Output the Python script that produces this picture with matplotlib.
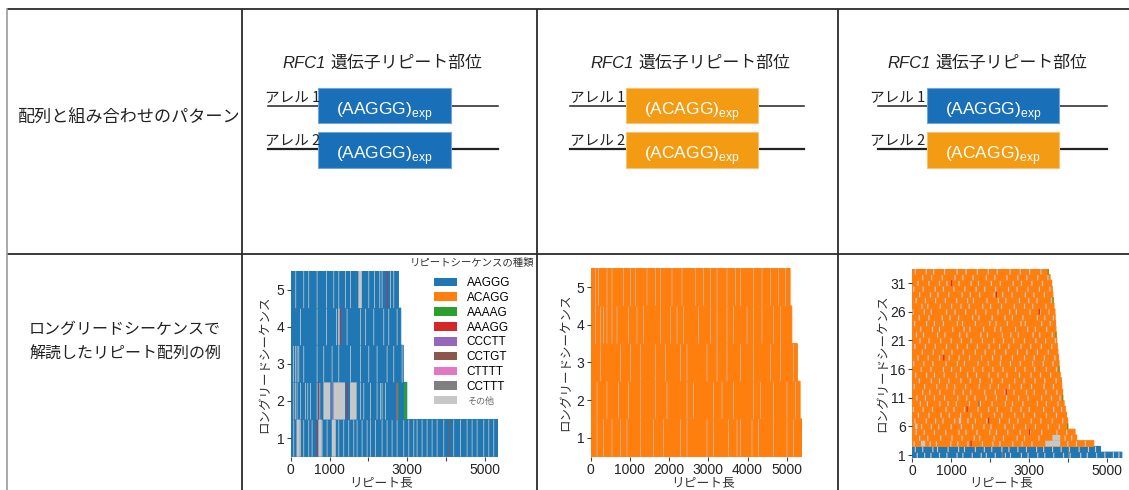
import matplotlib
matplotlib.use("Agg")
import matplotlib.pyplot as plt
from matplotlib.patches import Rectangle, Patch

plt.rcParams['font.family'] = ['Liberation Sans', 'Noto Sans CJK JP', 'DejaVu Sans']
plt.rcParams['mathtext.fontset'] = 'custom'
plt.rcParams['mathtext.rm'] = 'Liberation Sans'

# ---------------- data ----------------
motifs = ['AAGGG', 'ACAGG', 'AAAAG', 'AAAGG', 'CCCTT', 'CCTGT', 'CTTTT', 'CCTTT', 'その他']
motif_colors = ['#1f77b4', '#ff7f0e', '#2ca02c', '#d62728', '#9467bd',
                '#8c564b', '#e377c2', '#7f7f7f', '#c7c7c7']

row_labels = ['配列と組み合わせのパターン', 'ロングリードシーケンスで\n解読したリピート配列の例']
gene_title = '遺伝子リピート部位'
allele_labels = ['アレル 1', 'アレル 2']
panel_alleles = [('AAGGG', 'AAGGG'), ('ACAGG', 'ACAGG'), ('AAGGG', 'ACAGG')]

# panel 1: AAGGG/AAGGG, reads 1..5
p1_lengths = [5350, 2990, 2900, 2835, 2775]
p1_base = ['AAGGG'] * 5
p1_other = [
    [69, 155, 241, 326, 455, 541, 799, 928, 1143, 1229, 1357, 1486, 1615, 1701, 1830,
     1959, 2045, 2174, 2345, 2474, 2603, 2732, 2904, 3033, 3162, 3247, 3376, 3505,
     3634, 3763, 3935, 4192, 4364, 4536, 4665, 4794, 4966, 5095, 5223],
    [69, 112, 155, 241, 369, 430, 498, 670, 740, 1529, 1600, 1787, 1873, 2045, 2216,
     2302, 2345, 2431, 2732],
    [60, 112, 155, 198, 326, 670, 842, 1057, 1229, 1529, 1787, 2002, 2216, 2474, 2646, 2861],
    [241, 670, 911, 1168, 1229, 1443, 1787, 1916, 2131, 2388, 2517, 2732],
    [120, 326, 455, 670, 911, 1100, 1229, 1400, 1529, 2002, 2148, 2285, 2345, 2560, 2646],
]
p1_other_len = 20
# (read, start, length, motif) for wider or coloured pieces
p1_pieces = [
    (5, 1744, 90, 'その他'), (5, 2474, 20, 'AAAGG'),
    (4, 1271, 20, 'AAAGG'), (4, 1229, 30, 'その他'),
    (2, 842, 180, 'その他'), (2, 1057, 20, 'CTTTT'), (2, 1100, 300, 'その他'),
    (2, 1443, 22, 'AAAGG'), (2, 1529, 170, 'その他'), (2, 713, 20, 'AAAGG'),
    (2, 2775, 18, 'AAAAG'), (2, 2921, 69, 'AAAAG'), (2, 2732, 20, 'AAAGG'),
    (1, 670, 20, 'AAAGG'), (1, 155, 80, 'その他'), (1, 713, 86, 'その他'),
    (1, 1057, 86, 'その他'), (1, 4064, 25, 'CCTGT'),
]

# panel 2: ACAGG/ACAGG, reads 1..5
p2_lengths = [5400, 5340, 5270, 5128, 5085]
p2_base = ['ACAGG'] * 5
p2_other = [
    [153, 323, 536, 748, 918, 1259, 1599, 1854, 2279, 2449, 2959, 3129, 3512, 3724,
     3810, 4107, 4277, 4660, 5000, 5170],
    [153, 408, 706, 961, 1259, 1641, 1939, 2449, 2619, 3129, 3342, 3639, 4150, 4320,
     4660, 5000, 5213],
    [238, 748, 1003, 1259, 1641, 1896, 2279, 2449, 2959, 3214, 3469, 3810, 4150,
     4575, 4830, 5170],
    [111, 238, 323, 408, 536, 663, 961, 1173, 1344, 1769, 2024, 2194, 2364, 2747,
     3044, 3214, 3469, 3639, 3980, 4150, 4362, 4660, 4830],
    [111, 196, 408, 536, 833, 1003, 1131, 1429, 1641, 1769, 2066, 2321, 2662, 2874,
     3044, 3214, 3469, 3682, 3810, 4150, 4362, 4575, 4787, 4957],
]
p2_other_len = 15

# panel 3: AAGGG/ACAGG, reads 1..33
p3_lengths = [5380, 4830, 4660, 4220, 4180, 4000, 3990, 3960, 3930, 3900, 3870,
              3860, 3840, 3830, 3800, 3780, 3770, 3755, 3740, 3725, 3710, 3700,
              3690, 3680, 3670, 3665, 3640, 3625, 3610, 3595, 3580, 3540, 3500]
p3_base = ['AAGGG', 'AAGGG'] + ['ACAGG'] * 31
p3_other = [
    [120, 310, 470, 690, 880, 1140, 1290, 1530, 1760, 1890, 2120, 2380, 2510, 2790,
     2960, 3210, 3390, 3620, 3870, 4040, 4310, 4480, 4720, 4930, 5150, 5290],
    [70, 260, 520, 640, 910, 1180, 1330, 1610, 1840, 2030, 2290, 2470, 2700, 2920,
     3180, 3360, 3590, 3810, 4020, 4270, 4510, 4690],
    [40, 450, 610, 980, 1160, 1420, 1790, 2060, 2240, 2570, 2810, 3060, 3980, 4200, 4430],
    [180, 390, 720, 1010, 1270, 1580, 1720, 2090, 2330, 2680, 2870, 3240, 3910, 4080],
    [90, 300, 560, 850, 1190, 1370, 1650, 1980, 2150, 2440, 2760, 3020, 3310, 3700, 3950],
    [230, 480, 670, 990, 1250, 1540, 1830, 2010, 2370, 2590, 2900, 3150, 3480, 3760],
    [60, 350, 590, 780, 1080, 1420, 1610, 1900, 2230, 2480, 2700, 3040, 3290, 3580, 3850],
    [150, 420, 730, 940, 1230, 1500, 1760, 2100, 2290, 2620, 2850, 3130, 3430, 3690],
    [20, 270, 510, 860, 1060, 1330, 1680, 1950, 2170, 2530, 2780, 2990, 3360, 3620, 3820],
    [200, 380, 700, 910, 1120, 1460, 1740, 2040, 2380, 2560, 2830, 3200, 3430, 3730],
    [110, 330, 560, 820, 1160, 1390, 1600, 1880, 2150, 2410, 2720, 2960, 3310, 3560, 3780],
    [260, 440, 700, 1060, 1300, 1490, 1850, 2120, 2370, 2600, 2920, 3120, 3420, 3700],
    [40, 310, 620, 880, 1080, 1360, 1710, 1990, 2200, 2480, 2790, 3050, 3370, 3610],
    [170, 480, 690, 930, 1240, 1480, 1730, 2030, 2300, 2620, 2860, 3140, 3390, 3680],
    [80, 360, 560, 810, 1120, 1410, 1640, 1960, 2190, 2420, 2740, 3040, 3280, 3540],
    [220, 470, 790, 1000, 1230, 1570, 1800, 2060, 2320, 2640, 2880, 3130, 3430, 3690],
    [30, 290, 520, 860, 1150, 1330, 1680, 1940, 2250, 2510, 2760, 3080, 3350, 3600],
    [140, 400, 690, 940, 1190, 1460, 1770, 2050, 2270, 2560, 2870, 3120, 3380, 3650],
    [250, 530, 780, 1010, 1300, 1610, 1860, 2100, 2390, 2690, 2930, 3200, 3480],
    [60, 330, 580, 870, 1150, 1400, 1660, 1960, 2230, 2470, 2780, 3030, 3300, 3570],
    [190, 420, 720, 990, 1250, 1500, 1790, 2080, 2330, 2590, 2870, 3160, 3410, 3660],
    [100, 280, 640, 830, 1210, 1390, 1750, 1920, 2300, 2520, 2710, 3090, 3260, 3580],
    [210, 510, 690, 1030, 1320, 1470, 1820, 2110, 2260, 2640, 2950, 3150, 3440],
    [50, 360, 560, 790, 1150, 1280, 1610, 1980, 2140, 2430, 2780, 2890, 3310, 3530],
    [170, 420, 760, 960, 1180, 1540, 1700, 2040, 2370, 2560, 2830, 3200, 3390, 3610],
    [10, 300, 480, 870, 1090, 1360, 1620, 1880, 2190, 2490, 2660, 3010, 3270, 3500],
    [240, 390, 710, 1000, 1240, 1450, 1800, 2000, 2280, 2610, 2870, 3080, 3420],
    [90, 330, 590, 840, 1130, 1410, 1560, 1910, 2200, 2390, 2740, 2980, 3190, 3560],
    [180, 460, 650, 930, 1270, 1480, 1720, 2090, 2310, 2550, 2890, 3110, 3380],
    [30, 270, 580, 790, 1060, 1340, 1630, 1850, 2130, 2460, 2680, 2960, 3250, 3520],
    [140, 420, 690, 880, 1190, 1500, 1690, 2020, 2250, 2580, 2790, 3060, 3330],
    [260, 490, 760, 1090, 1290, 1550, 1890, 2110, 2420, 2700, 2930, 3210, 3470],
    [70, 350, 540, 820, 1140, 1370, 1660, 1940, 2170, 2500, 2760, 3000, 3290],
]
p3_other_len = 30
p3_pieces = [
    (3, 230, 110, 'その他'), (3, 3420, 380, 'その他'), (4, 3600, 200, 'その他'),
    (6, 80, 60, 'その他'), (7, 1200, 60, 'その他'),
    (3, 1500, 30, 'AAAGG'), (5, 3000, 30, 'AAAGG'), (7, 1950, 30, 'AAAGG'),
    (9, 1400, 30, 'AAAGG'), (12, 2400, 30, 'AAAGG'), (18, 800, 30, 'AAAGG'),
    (26, 3250, 30, 'AAAGG'), (29, 2150, 30, 'AAAGG'), (31, 1000, 30, 'AAAGG'),
    (10, 1700, 30, 'CCTTT'), (1, 2300, 30, 'CCTTT'), (1, 4000, 30, 'CCTTT'),
    (33, 3480, 20, 'AAAAG'), (28, 3605, 20, 'AAAAG'), (22, 3680, 20, 'AAAAG'),
    (16, 3760, 20, 'AAAAG'), (11, 3850, 20, 'AAAAG'), (6, 3980, 20, 'AAAAG'),
]

# ---------------- figure ----------------
W, H = 1129, 490
fig = plt.figure(figsize=(W / 100, H / 100), dpi=100)
bg = fig.add_axes([0, 0, 1, 1])
bg.set_xlim(0, W)
bg.set_ylim(H, 0)
bg.axis('off')

line_kw = dict(color='#2b2b2b', lw=1.3, solid_capstyle='butt')
bg.plot([7, W], [9, 9], **line_kw)
bg.plot([7, W], [254, 254], **line_kw)
bg.plot([7, 7], [9, H], color='#9a9a9a', lw=1.2)
for x in (242, 537, 838):
    bg.plot([x, x], [9, H], **line_kw)

bg.text(128, 118, row_labels[0], ha='center', va='center', fontsize=12.3,
        family='Noto Sans CJK JP', color='#222')
bg.text(125, 342, row_labels[1], ha='center', va='center', fontsize=11.5,
        family='Noto Sans CJK JP', color='#222', linespacing=1.6)

box_colors = {'AAGGG': '#1a70b8', 'ACAGG': '#f39b12'}
edge_colors = {'AAGGG': '#6fa6d8', 'ACAGG': '#f7c277'}
# geometry of each diagram: title x, label x, line x0/x1, box x0/x1
geo = [(282, 265, 268, 498, 318, 451),
       (590, 570, 570, 804, 626, 758),
       (887, 870, 878, 1107, 927, 1059)]
rows_y = [(88, 123, 106, 97), (132, 168, 149, 140)]

for (tx, lx, l0, l1, b0, b1), alleles in zip(geo, panel_alleles):
    bg.text(tx, 63, 'RFC1', style='italic', fontsize=12, ha='left', va='center',
            color='#222')
    bg.text(tx + 48, 63, gene_title, fontsize=12.2, ha='left', va='center',
            family='Noto Sans CJK JP', color='#222')
    for k, (motif, (y0, y1, ly, labely)) in enumerate(zip(alleles, rows_y)):
        bg.plot([l0, l1], [ly, ly], color='#222', lw=1.1 + 0.5 * k, zorder=1)
        bg.add_patch(Rectangle((b0, y0), b1 - b0, y1 - y0, facecolor=box_colors[motif],
                               edgecolor=edge_colors[motif], lw=0.8, zorder=2))
        bg.text((b0 + b1) / 2, (y0 + y1) / 2 + 9,
                '(' + motif + ')$_{\\mathregular{exp}}$', ha='center', va='baseline',
                fontsize=12.5, color='white', zorder=3)
        bg.text(lx, labely, allele_labels[k], ha='left', va='center', fontsize=10.5,
                family=['Noto Sans CJK JP'], color='#222')


def px_axes(l, t, r, b):
    return fig.add_axes([l / W, 1 - b / H, (r - l) / W, (b - t) / H])


def draw_reads(ax, lengths, base, other, other_len, pieces):
    col = dict(zip(motifs, motif_colors))
    for i, L in enumerate(lengths):
        # a thin edge in the same colour closes the seams between stacked rows
        ax.barh(i + 1, L, height=1.0, left=0, color=col[base[i]],
                edgecolor=col[base[i]], lw=0.8, snap=False)
        for s in other[i]:
            ax.barh(i + 1, other_len, height=1.0, left=s, color=col['その他'], lw=0,
                    snap=False)
    for r, s, ln, m in pieces:
        ax.barh(r, ln, height=1.0, left=s, color=col[m], lw=0, snap=False)


def style(ax, l, t, r, b, xmax, nreads, yticks, xticks, xlabels, xlab_x, ylab_x):
    ax.set_facecolor('none')
    for sp in ax.spines.values():
        sp.set_visible(False)
    ax.set_xlim(0, xmax)
    ax.set_ylim(0.5, nreads + 0.5)
    ax.set_yticks(yticks)
    ax.set_xticks(xticks)
    ax.set_xticklabels(xlabels)
    ax.tick_params(length=3, width=0.8, color='#444', labelsize=10, pad=1.5,
                   labelcolor='#222')
    ax.set_xlabel('リピート長', fontsize=9.2, va='center', color='#333')
    ax.set_ylabel('ロングリードシーケンス', fontsize=9, va='center', color='#333')
    ax.xaxis.set_label_coords((xlab_x - l) / (r - l), (b - 483) / (b - t))
    ax.yaxis.set_label_coords((ylab_x - l) / (r - l), 0.5)


xt = [0, 1000, 2000, 3000, 4000, 5000]
xt_sparse = ['0', '1000', '', '3000', '', '5000']

a1 = (290.7, 271, 498.3, 456.7)
ax1 = px_axes(*a1)
draw_reads(ax1, p1_lengths, p1_base, p1_other, p1_other_len, p1_pieces)
style(ax1, *a1, 5350, 5, [1, 2, 3, 4, 5], xt, xt_sparse, 381, 265)

a2 = (590.7, 268.3, 802.4, 456.6)
ax2 = px_axes(*a2)
draw_reads(ax2, p2_lengths, p2_base, p2_other, p2_other_len, [])
style(ax2, *a2, 5400, 5, [1, 2, 3, 4, 5], xt, [str(v) for v in xt], 703, 566)

a3 = (912, 268.8, 1122.6, 457.9)
ax3 = px_axes(*a3)
draw_reads(ax3, p3_lengths, p3_base, p3_other, p3_other_len, p3_pieces)
style(ax3, *a3, 5400, 33, [1, 6, 11, 16, 21, 26, 31], xt, xt_sparse, 1001, 883)

handles = [Patch(facecolor=c, label=m) for m, c in zip(motifs, motif_colors)]
leg = ax1.legend(handles=handles, title='リピートシーケンスの種類', loc='upper left',
                 bbox_to_anchor=(410 / W, 1 - 258 / H), bbox_transform=fig.transFigure,
                 frameon=False, fontsize=8.5, title_fontsize=7.5, handlelength=1.95,
                 handleheight=0.75, handletextpad=0.8, labelspacing=0.24,
                 borderpad=0, borderaxespad=0)
leg._legend_box.sep = 6.5
leg.get_texts()[-1].set_fontsize(6.5)
leg.get_texts()[-1].set_color('#666')
leg.get_title().set_color('#333')

fig.savefig('out.png', dpi=100)
